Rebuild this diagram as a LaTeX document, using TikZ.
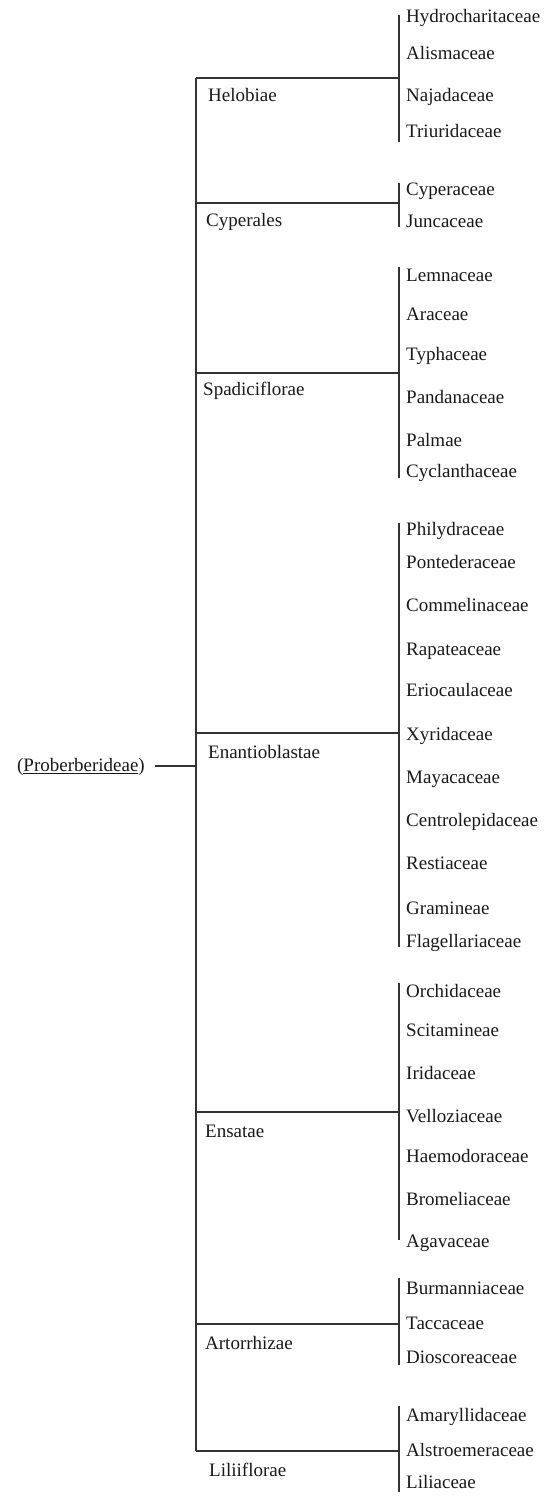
\documentclass[tikz,border=0pt]{standalone}
\usepackage{fontspec}
\setmainfont{Liberation Serif}
\begin{document}
\begin{tikzpicture}[x=1pt,y=-1pt,
  txt/.style={inner sep=0pt, font=\fontsize{19}{22}\selectfont, text=black!90},
  fam/.style={txt, anchor=mid west, yshift=-2.5pt},
  grp/.style={txt, anchor=mid west, yshift=-2.5pt},
  hline/.style={line width=1.4pt, draw=black!80},
  vline/.style={line width=1.1pt, draw=black!80}]
\useasboundingbox (0,0) rectangle (549,1496);

% root
\node[txt, anchor=east, inner xsep=10pt, yshift=-1pt] (root) at (155,766) {(\underline{Proberberideae})};
\coordinate (mroot) at (196,766);
\draw[hline] (root.east |- mroot) -- (mroot);

% group labels
\node[grp] (g1) at (208,97) {Helobiae};
\node[grp] (g2) at (206,222) {Cyperales};
\node[grp] (g3) at (203,391) {Spadiciflorae};
\node[grp] (g4) at (208,754) {Enantioblastae};
\node[grp] (g5) at (205,1133) {Ensatae};
\node[grp] (g6) at (205,1345) {Artorrhizae};
\node[grp] (g7) at (209,1472) {Liliiflorae};

% junctions: main axis (m), right axis (r), right axis top (t) and bottom (b)
\foreach \i/\h/\top/\bot in {1/78/15/142, 2/203/183/227, 3/373/267/478, 4/733/523/947,
  5/1112/983/1240, 6/1324/1278/1365, 7/1451/1406/1492}{
  \coordinate (m\i) at (196,\h);
  \coordinate (r\i) at (399,\h);
  \coordinate (t\i) at (399,\top);
  \coordinate (b\i) at (399,\bot);
}
\draw[hline] (m1) -- (m7);
\foreach \i in {1,...,7}{
  \draw[hline] (m\i) -- (r\i);
  \draw[vline] (t\i) -- (b\i);
}

% families
\foreach \n/\y/\t in {
  a1/18/Hydrocharitaceae, a2/55/Alismaceae, a3/97/Najadaceae, a4/133/Triuridaceae,
  b1/191/Cyperaceae, b2/223/Juncaceae,
  c1/277/Lemnaceae, c2/316/Araceae, c3/356/Typhaceae, c4/399/Pandanaceae, c5/442/Palmae, c6/473/Cyclanthaceae,
  d1/531/Philydraceae, d2/564/Pontederaceae, d3/607/Commelinaceae, d4/651/Rapateaceae, d5/692/Eriocaulaceae,
  d6/736/Xyridaceae, d7/779/Mayacaceae, d8/822/Centrolepidaceae, d9/865/Restiaceae, d10/910/Gramineae, d11/943/Flagellariaceae,
  e1/993/Orchidaceae, e2/1032/Scitamineae, e3/1075/Iridaceae, e4/1118/Velloziaceae, e5/1158/Haemodoraceae, e6/1201/Bromeliaceae, e7/1243/Agavaceae,
  f1/1290/Burmanniaceae, f2/1325/Taccaceae, f3/1359/Dioscoreaceae,
  h1/1417/Amaryllidaceae, h2/1452/Alstroemeraceae, h3/1484/Liliaceae}{
  \node[fam] (\n) at (406,\y) {\t};
}
\end{tikzpicture}
\end{document}
